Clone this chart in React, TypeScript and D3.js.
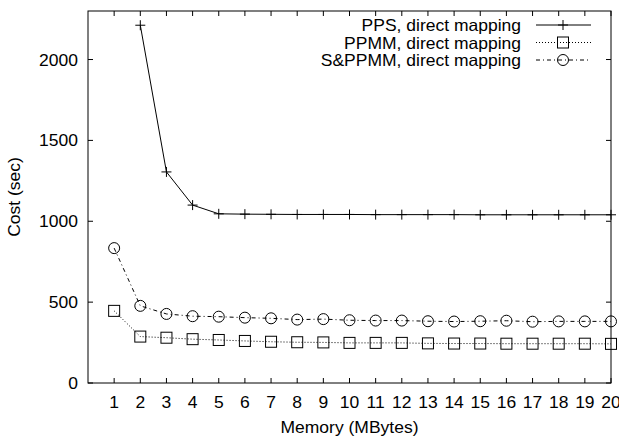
import React from "react";
import * as d3 from "d3";

const memory = d3.range(1, 21);
const ppsX = [2, 3, 4, 5, 6, 7, 8, 9, 10, 11, 12, 13, 14, 15, 16, 17, 18, 19, 20];
const ppsCost = [2212, 1305, 1100, 1046, 1044, 1043, 1042, 1042, 1042, 1041, 1041, 1041, 1041, 1040, 1040, 1040, 1040, 1040, 1040];
const ppmmCost = [446, 287, 280, 271, 266, 260, 255, 252, 251, 248, 248, 248, 245, 244, 244, 243, 243, 243, 243, 242];
const sppmmCost = [834, 477, 427, 413, 410, 404, 400, 392, 395, 388, 386, 386, 382, 380, 382, 385, 379, 381, 381, 381];
const yTicks = [0, 500, 1000, 1500, 2000];
const seriesNames = ["PPS, direct mapping", "PPMM, direct mapping", "S&PPMM, direct mapping"];

const W = 619, H = 437;
const L = 88, R = 611, T = 11, B = 383;
const FONT = "'Liberation Sans', Arial, Helvetica, sans-serif";
const FS = 16.5;
const SX = 1.06;

function Marker({ kind, x, y }: { kind: string; x: number; y: number }) {
  if (kind === "plus")
    return <path d={`M${x - 5},${y}H${x + 5}M${x},${y - 5}V${y + 5}`} stroke="#000" strokeWidth={1} fill="none" />;
  if (kind === "square")
    return <rect x={x - 5.5} y={y - 5.5} width={11} height={11} stroke="#000" strokeWidth={1} fill="none" />;
  return <circle cx={x} cy={y} r={5.5} stroke="#000" strokeWidth={1} fill="none" />;
}

function T_({ x, y, anchor, rot, children }: { x: number; y: number; anchor: string; rot?: number; children: any }) {
  return (
    <text transform={`translate(${x},${y})${rot ? ` rotate(${rot})` : ""} scale(${SX},1)`} fontSize={FS} textAnchor={anchor}>
      {children}
    </text>
  );
}

export default function App() {
  const x = d3.scaleLinear().domain([0, 20]).range([L, R]);
  const y = d3.scaleLinear().domain([0, 2300]).range([B, T]);
  const line = d3.line<[number, number]>().x(d => x(d[0])).y(d => y(d[1]));

  const series = [
    { name: seriesNames[0], pts: ppsX.map((m, i) => [m, ppsCost[i]] as [number, number]), dash: "none", kind: "plus" },
    { name: seriesNames[1], pts: memory.map((m, i) => [m, ppmmCost[i]] as [number, number]), dash: "1,2", kind: "square" },
    { name: seriesNames[2], pts: memory.map((m, i) => [m, sppmmCost[i]] as [number, number]), dash: "4,3,1,3", kind: "circle" },
  ];

  return (
    <svg width={W} height={H} style={{ position: "absolute", left: 0, top: 0, background: "#fff" }} fontFamily={FONT}>
      <rect x={0} y={0} width={W} height={H} fill="#fff" />
      {memory.map(m => (
        <g key={"xt" + m}>
          <line x1={x(m)} x2={x(m)} y1={B} y2={B - 5} stroke="#000" />
          <line x1={x(m)} x2={x(m)} y1={T} y2={T + 5} stroke="#000" />
          <T_ x={x(m)} y={408} anchor="middle">{m}</T_>
        </g>
      ))}
      {yTicks.map(v => (
        <g key={"yt" + v}>
          <line x1={L} x2={L + 5} y1={y(v)} y2={y(v)} stroke="#000" />
          <line x1={R} x2={R - 5} y1={y(v)} y2={y(v)} stroke="#000" />
          <T_ x={78} y={y(v) + 6} anchor="end">{v}</T_>
        </g>
      ))}
      <rect x={L} y={T} width={R - L} height={B - T} fill="none" stroke="#000" strokeWidth={1} />
      <T_ x={(L + R) / 2} y={433} anchor="middle">Memory (MBytes)</T_>
      <T_ x={20} y={(T + B) / 2} anchor="middle" rot={-90}>Cost (sec)</T_>
      {series.map(s => (
        <g key={s.name}>
          <path d={line(s.pts) || ""} fill="none" stroke="#000" strokeWidth={1} strokeDasharray={s.dash} />
          {s.pts.map((p, i) => <Marker key={i} kind={s.kind} x={x(p[0])} y={y(p[1])} />)}
        </g>
      ))}
      {series.map((s, i) => {
        const ly = 25 + i * 17.5;
        return (
          <g key={"lg" + i}>
            <T_ x={521} y={ly + 6} anchor="end">{s.name}</T_>
            <line x1={536} x2={591} y1={ly} y2={ly} stroke="#000" strokeWidth={1} strokeDasharray={s.dash} />
            <Marker kind={s.kind} x={563} y={ly} />
          </g>
        );
      })}
    </svg>
  );
}
